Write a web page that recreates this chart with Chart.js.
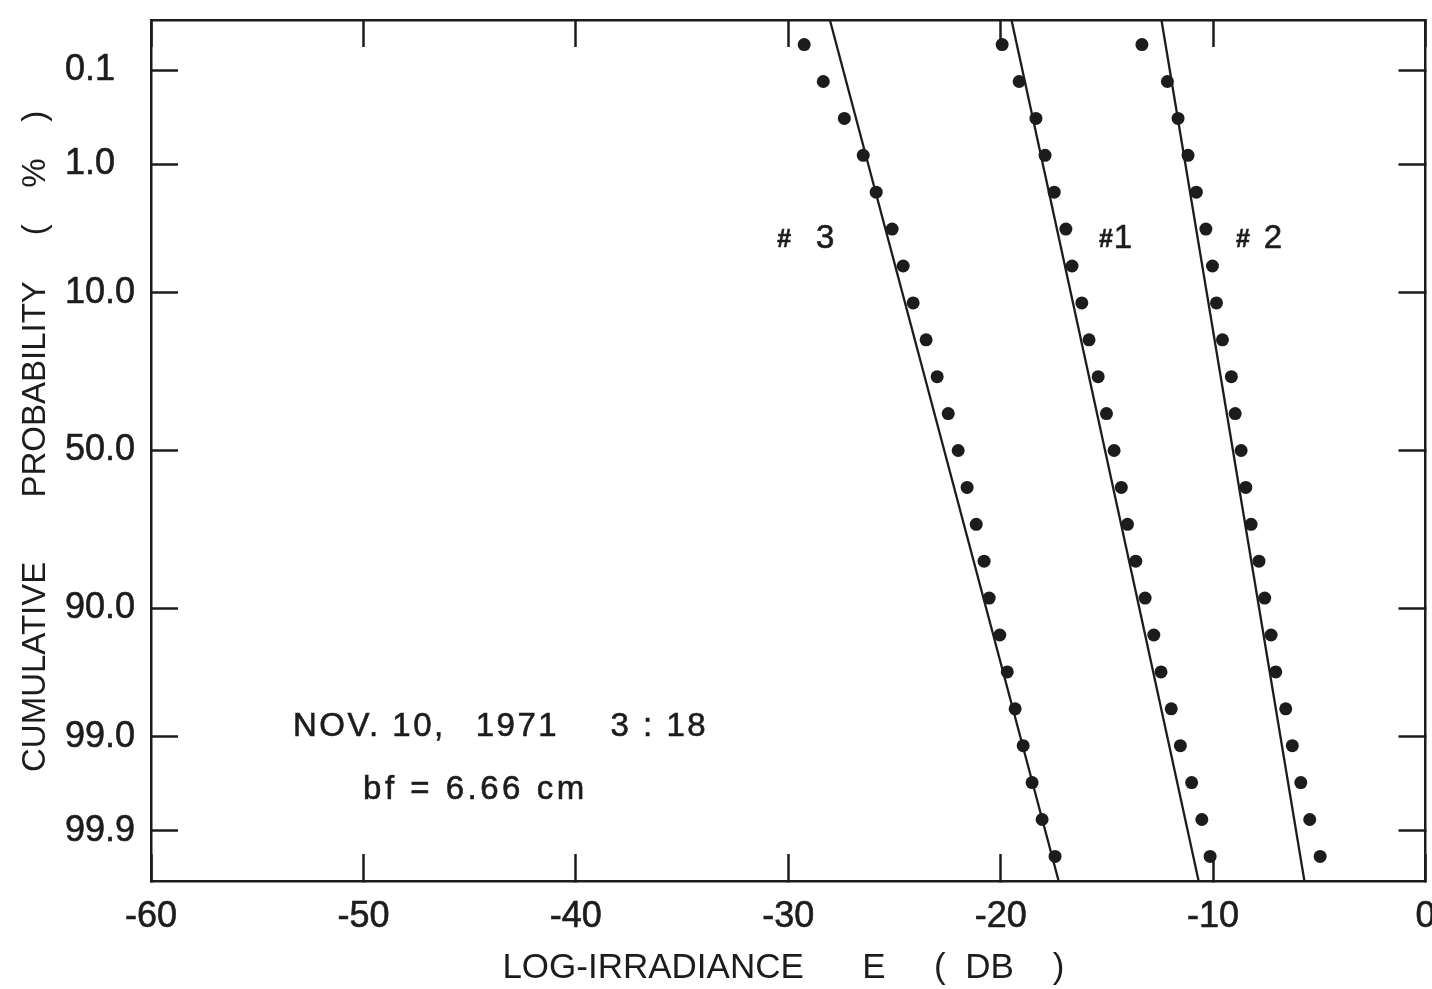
<!DOCTYPE html>
<html>
<head>
<meta charset="utf-8">
<script src="https://cdn.jsdelivr.net/npm/chart.js@4.4.1/dist/chart.umd.min.js"></script>
<style>
  html, body { margin: 0; padding: 0; background: #ffffff; }
  #wrap { width: 1432px; height: 989px; }
</style>
</head>
<body>
<div id="wrap"><canvas id="c" width="1432" height="989"></canvas></div>
<script>
// ------------------------- DATA -------------------------
// x axis: log-irradiance E (dB)
const xMin = -60;
const xMax = 0;
const xStep = 10;
// y axis: cumulative probability (%) on a normal-probability scale
const yTickLabels = ['0.1', '1.0', '10.0', '50.0', '90.0', '99.0', '99.9'];
const zMin = -3.5;
const zMax = 3.5;
// normal scores (probit) of the plotted points
const zPoints = [-3.3, -3.0, -2.7, -2.4, -2.1, -1.8, -1.5, -1.2, -0.9, -0.6, -0.3, 0.0,
                  0.3, 0.6, 0.9, 1.2, 1.5, 1.8, 2.1, 2.4, 2.7, 3.0, 3.3];
// measured log-irradiance (dB) for each run
const series1 = [-19.93, -19.13, -18.34, -17.91, -17.48, -16.93, -16.64, -16.18, -15.84, -15.41, -15.02, -14.66,
                 -14.32, -14.03, -13.64, -13.20, -12.79, -12.45, -11.97, -11.54, -11.01, -10.53, -10.14];
const series2 = [-13.35, -12.15, -11.65, -11.18, -10.79, -10.34, -10.03, -9.84, -9.56, -9.14, -8.96, -8.68,
                 -8.46, -8.21, -7.84, -7.57, -7.27, -7.05, -6.58, -6.27, -5.87, -5.45, -4.96];
const series3 = [-29.25, -28.35, -27.36, -26.47, -25.86, -25.11, -24.59, -24.12, -23.51, -22.99, -22.47, -22.00,
                 -21.58, -21.15, -20.78, -20.54, -20.04, -19.69, -19.32, -18.94, -18.52, -18.05, -17.44];
// fitted log-normal lines (end points at zMin / zMax)
const fitZ = [-3.5, 3.5];
const fit1 = [-19.49, -10.68];
const fit2 = [-12.43, -5.70];
const fit3 = [-28.04, -17.27];
const seriesNames = ['1', '2', '3'];
const noteDate = ['NOV. 10,', '1971', '3 : 18'];
const noteBf = 'bf = 6.66 cm';
const xTitle = 'LOG-IRRADIANCE      E     (  DB    ) ';
const yTitle = '  CUMULATIVE       PROBABILITY     (    %    )';

// ------------------------- HELPERS -------------------------
// inverse standard normal CDF (Acklam) used to place probability ticks
function probit(p) {
  const a = [-3.969683028665376e+01, 2.209460984245205e+02, -2.759285104469687e+02, 1.383577518672690e+02, -3.066479806614716e+01, 2.506628277459239e+00];
  const b = [-5.447609879822406e+01, 1.615858368580409e+02, -1.556989798598866e+02, 6.680131188771972e+01, -1.328068155288572e+01];
  const c = [-7.784894002430293e-03, -3.223964580411365e-01, -2.400758277161838e+00, -2.549732539343734e+00, 4.374664141464968e+00, 2.938163982698783e+00];
  const d = [7.784695709041462e-03, 3.224671290700398e-01, 2.445134137142996e+00, 3.754408661907416e+00];
  const pl = 0.02425, ph = 1 - pl;
  let q, r;
  if (p < pl) {
    q = Math.sqrt(-2 * Math.log(p));
    return (((((c[0]*q+c[1])*q+c[2])*q+c[3])*q+c[4])*q+c[5]) / ((((d[0]*q+d[1])*q+d[2])*q+d[3])*q+1);
  } else if (p <= ph) {
    q = p - 0.5; r = q * q;
    return (((((a[0]*r+a[1])*r+a[2])*r+a[3])*r+a[4])*r+a[5])*q / (((((b[0]*r+b[1])*r+b[2])*r+b[3])*r+b[4])*r+1);
  } else {
    q = Math.sqrt(-2 * Math.log(1 - p));
    return -(((((c[0]*q+c[1])*q+c[2])*q+c[3])*q+c[4])*q+c[5]) / ((((d[0]*q+d[1])*q+d[2])*q+d[3])*q+1);
  }
}
const yTickValues = yTickLabels.map(s => probit(parseFloat(s) / 100));
const pts = (xs, zs) => xs.map((v, i) => ({ x: v, y: zs[i] }));

// ------------------------- STYLE -------------------------
const INK = '#1c1c1c';
const FONT = "'Liberation Sans', Arial, Helvetica, sans-serif";
const gridCfg = { drawOnChartArea: false, drawTicks: true, tickLength: -27, tickWidth: 2.5, tickColor: INK };
const borderCfg = { display: true, color: INK, width: 2.5 };
const PAD_LEFT = 65;      // left edge of the probability labels
const PLOT_LEFT = 151;    // left edge of the plot frame

// positions of the run labels / notes (data coordinates)
const runLabelPos = [
  { hash: -15.04, digit: -14.24, z: -1.72 },
  { hash: -8.59, digit: -7.18, z: -1.72 },
  { hash: -30.19, digit: -28.26, z: -1.72 }
];
const notePos = { dateX: [-49.72, -42.75, -36.07], dateZ: 2.325, bfX: -44.73, bfZ: 2.837 };

function heavyText(ctx, t, px, py) {
  ctx.fillText(t, px, py);
  ctx.strokeText(t, px, py);
}

const annotPlugin = {
  id: 'annot',
  beforeDraw(chart) {
    const ctx = chart.ctx;
    ctx.save();
    ctx.fillStyle = '#ffffff';
    ctx.fillRect(0, 0, chart.width, chart.height);
    ctx.restore();
  },
  afterDatasetsDraw(chart) {
    const { ctx } = chart;
    const x = chart.scales.x, y = chart.scales.y;
    ctx.save();
    ctx.fillStyle = INK;
    ctx.strokeStyle = INK;
    ctx.lineWidth = 0.6;
    // run labels
    seriesNames.forEach((name, i) => {
      const p = runLabelPos[i];
      ctx.textAlign = 'center';
      ctx.textBaseline = 'middle';
      ctx.font = 'bold 25px ' + FONT;
      heavyText(ctx, '#', x.getPixelForValue(p.hash), y.getPixelForValue(p.z) + 1);
      ctx.font = '33px ' + FONT;
      heavyText(ctx, name, x.getPixelForValue(p.digit), y.getPixelForValue(p.z));
    });
    // notes
    ctx.textAlign = 'center';
    ctx.textBaseline = 'alphabetic';
    ctx.font = '33px ' + FONT;
    try { ctx.letterSpacing = '2.5px'; } catch (e) {}
    noteDate.forEach((t, i) => {
      heavyText(ctx, t, x.getPixelForValue(notePos.dateX[i]), y.getPixelForValue(notePos.dateZ));
    });
    try { ctx.letterSpacing = '3.5px'; } catch (e) {}
    heavyText(ctx, noteBf, x.getPixelForValue(notePos.bfX), y.getPixelForValue(notePos.bfZ));
    try { ctx.letterSpacing = '0px'; } catch (e) {}
    ctx.restore();
  }
};

const dotStyle = { showLine: false, pointRadius: 6.5, pointHoverRadius: 6.5, pointBackgroundColor: INK, pointBorderColor: INK, pointBorderWidth: 0 };
const lineStyle = { showLine: true, pointRadius: 0, borderColor: INK, borderWidth: 2.3, fill: false, tension: 0 };

new Chart(document.getElementById('c'), {
  type: 'scatter',
  data: {
    datasets: [
      { label: 'fit ' + seriesNames[0], data: pts(fit1, fitZ), ...lineStyle },
      { label: 'fit ' + seriesNames[1], data: pts(fit2, fitZ), ...lineStyle },
      { label: 'fit ' + seriesNames[2], data: pts(fit3, fitZ), ...lineStyle },
      { label: '# ' + seriesNames[0], data: pts(series1, zPoints), ...dotStyle },
      { label: '# ' + seriesNames[1], data: pts(series2, zPoints), ...dotStyle },
      { label: '# ' + seriesNames[2], data: pts(series3, zPoints), ...dotStyle }
    ]
  },
  options: {
    responsive: false,
    devicePixelRatio: 1,
    animation: false,
    layout: { padding: { top: 20, right: 6, bottom: 0, left: PAD_LEFT } },
    plugins: { legend: { display: false }, tooltip: { enabled: false } },
    scales: {
      x: {
        type: 'linear', position: 'bottom', min: xMin, max: xMax,
        ticks: { stepSize: xStep, color: INK, font: { family: FONT, size: 36 }, padding: 41, maxRotation: 0, autoSkip: false,
                 textStrokeWidth: 0.6, textStrokeColor: INK },
        grid: gridCfg, border: borderCfg,
        title: { display: true, text: xTitle, color: INK, font: { family: FONT, size: 35 }, padding: { top: 0, bottom: 0 } },
        afterFit: s => { s.height = 108; s.paddingLeft = 0; s.paddingRight = 0; }
      },
      x2: {
        type: 'linear', position: 'top', min: xMin, max: xMax,
        ticks: { display: false, stepSize: xStep },
        grid: gridCfg, border: borderCfg,
        afterFit: s => { s.height = 0; s.paddingLeft = 0; s.paddingRight = 0; }
      },
      y: {
        type: 'linear', position: 'left', reverse: true, min: zMin, max: zMax,
        afterBuildTicks: s => { s.ticks = yTickValues.map(v => ({ value: v })); },
        ticks: { callback: (v, i) => yTickLabels[i], crossAlign: 'far', padding: 42, autoSkip: false, color: INK,
                 font: { family: FONT, size: 36 }, textStrokeWidth: 0.6, textStrokeColor: INK },
        grid: gridCfg, border: borderCfg,
        title: { display: true, text: yTitle, color: INK, font: { family: FONT, size: 33 }, padding: { top: 36 - PAD_LEFT - 19.8, bottom: 0 } },
        afterFit: s => { s.width = PLOT_LEFT - PAD_LEFT; s.paddingTop = 0; s.paddingBottom = 0; }
      },
      y2: {
        type: 'linear', position: 'right', reverse: true, min: zMin, max: zMax,
        afterBuildTicks: s => { s.ticks = yTickValues.map(v => ({ value: v })); },
        ticks: { display: false },
        grid: gridCfg, border: borderCfg,
        afterFit: s => { s.width = 0; s.paddingTop = 0; s.paddingBottom = 0; }
      }
    }
  },
  plugins: [annotPlugin]
});
</script>
</body>
</html>
